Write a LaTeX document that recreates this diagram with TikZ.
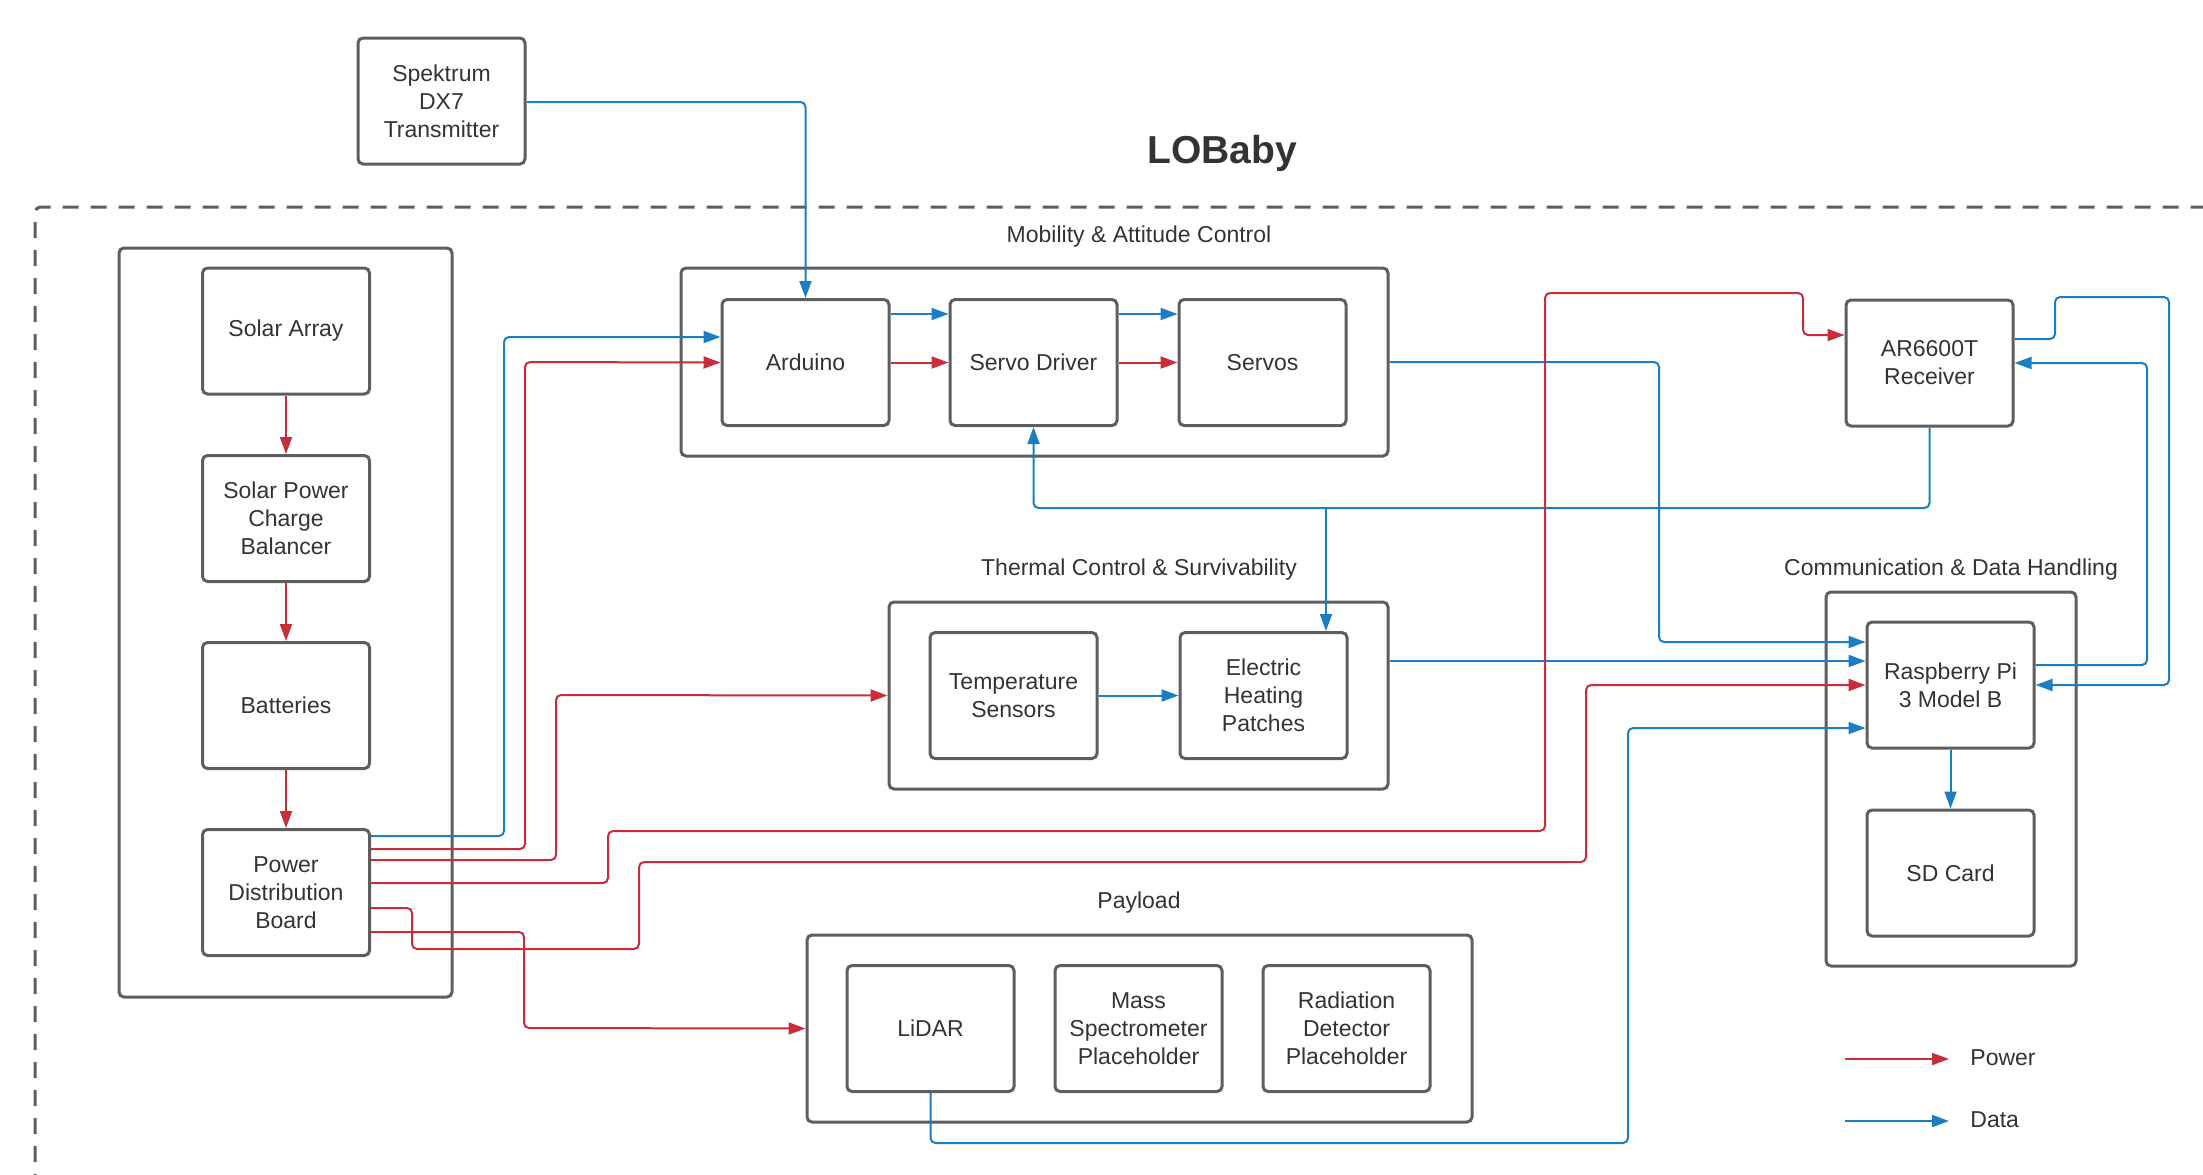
\documentclass[tikz,border=0pt]{standalone}
\usepackage{fontspec}
\setmainfont{Liberation Sans}
\usetikzlibrary{arrows.meta,calc,positioning}
\definecolor{boxgray}{HTML}{5E5E5E}
\definecolor{txtgray}{HTML}{333333}
\definecolor{pwrred}{HTML}{C92D39}
\definecolor{datblue}{HTML}{1B7DC2}
\tikzset{
  unit/.style={draw=boxgray, line width=1.5pt, rounded corners=2.5pt, minimum width=83.5pt, minimum height=63pt,
    align=center, text=txtgray, font=\fontsize{11.5}{14}\selectfont, inner sep=0pt},
  group/.style={draw=boxgray, line width=1.5pt, rounded corners=2.5pt, inner sep=0pt},
  grouplabel/.style={text=txtgray, font=\fontsize{11.5}{14}\selectfont},
  pwr/.style={draw=pwrred, line width=1pt, rounded corners=2.5pt, -{Triangle[length=8.5pt,width=6pt]}},
  dat/.style={draw=datblue, line width=1pt, rounded corners=2.5pt, -{Triangle[length=8.5pt,width=6pt]}}
}
\begin{document}
\begin{tikzpicture}[x=0.5pt,y=-0.5pt]
\useasboundingbox (0,0) rectangle (2203,1174);
\node[font=\bfseries\fontsize{19.5}{23}\selectfont, text=txtgray, anchor=base] (title) at (1222,163) {LOBaby};
\draw[boxgray, line width=1.5pt, dash pattern=on 8pt off 6pt, rounded corners=3pt] (35,1190) -- (35,207) -- (2220,207);

\node[group, minimum width=166.5pt, minimum height=374.5pt] (gpower) at (285.5,622.5) {};
\node[group, minimum width=353.5pt, minimum height=94pt] (gmob) at (1034.5,362) {};
\node[group, minimum width=249.5pt, minimum height=93.5pt] (gtherm) at (1138.5,695.5) {};
\node[group, minimum width=332.5pt, minimum height=93.5pt] (gpay) at (1139.5,1028.5) {};
\node[group, minimum width=125pt, minimum height=187pt] (gcomm) at (1951,779) {};

\node[grouplabel] (lmob) at (1139,237) {Mobility \& Attitude Control};
\node[grouplabel] (ltherm) at (1139,570) {Thermal Control \& Survivability};
\node[grouplabel] (lpay) at (1139,903) {Payload};
\node[grouplabel] (lcomm) at (1951,570) {Communication \& Data Handling};

\node[unit] (spek) at (441.5,101) {Spektrum\\DX7\\Transmitter};
\node[unit] (solar) at (286,331) {Solar Array};
\node[unit] (scb) at (286,518.5) {Solar Power\\Charge\\Balancer};
\node[unit] (batt) at (286,705.5) {Batteries};
\node[unit] (pdb) at (286,892.5) {Power\\Distribution\\Board};
\node[unit] (ard) at (805.5,362.5) {Arduino};
\node[unit] (sdrv) at (1033.5,362.5) {Servo Driver};
\node[unit] (servo) at (1262.5,362.5) {Servos};
\node[unit] (temp) at (1013.5,695.5) {Temperature\\Sensors};
\node[unit] (heat) at (1263.5,695.5) {Electric\\Heating\\Patches};
\node[unit] (ar) at (1929.5,363) {AR6600T\\Receiver};
\node[unit] (rpi) at (1950.5,685) {Raspberry Pi\\3 Model B};
\node[unit] (sd) at (1950.5,873) {SD Card};
\node[unit] (lidar) at (930.5,1028.5) {LiDAR};
\node[unit] (mass) at (1138.5,1028.5) {Mass\\Spectrometer\\Placeholder};
\node[unit] (rad) at (1346.5,1028.5) {Radiation\\Detector\\Placeholder};

\draw[pwr] (solar) -- (scb);
\draw[pwr] (scb) -- (batt);
\draw[pwr] (batt) -- (pdb);
\draw[dat] (spek.east |- 0,102) -| (ard.north);
\draw[dat] (ard.east |- 0,314) -- (sdrv.west |- 0,314);
\draw[pwr] (ard) -- (sdrv);
\draw[dat] (sdrv.east |- 0,314) -- (servo.west |- 0,314);
\draw[pwr] (sdrv) -- (servo);
\draw[dat] (gmob.east) -| (1659,642) -- (rpi.west |- 0,642);
\coordinate (jct) at (1326,508);
\draw[dat] (ar.south) |- (sdrv.south |- jct) -- (sdrv.south);
\draw[dat] (jct) -- (heat.north -| jct);
\draw[dat] (temp) -- (heat);
\draw[dat] (gtherm.east |- 0,661) -- (rpi.west |- 0,661);
\draw[dat] (lidar.south) |- (1628,1143) |- (rpi.west |- 0,728);
\draw[dat] (rpi.east |- 0,665) -| (2147,363) -- (ar.east);
\draw[dat] (ar.east |- 0,339) -| (2055,297) -| (2169,685) -- (rpi.east |- 0,685);
\draw[dat] (rpi) -- (sd);

\draw[dat] (pdb.east |- 0,836) -| (504,337) -- (ard.west |- 0,337);
\draw[pwr] (pdb.east |- 0,849) -| (525,362) -- (ard.west);
\draw[pwr] (pdb.east |- 0,860) -| (556,695) -- (gtherm.west);
\draw[pwr] (pdb.east |- 0,883) -| (608,831) -| (1545,293) -| (1803,335) -- (ar.west |- 0,335);
\draw[pwr] (pdb.east |- 0,908) -| (412,949) -| (639,862) -| (1586,685) -- (rpi.west);
\draw[pwr] (pdb.east |- 0,932) -| (524,1028) -- (gpay.west);

\coordinate (lgp1) at (1845,1059);
\coordinate (lgp2) at (1949,1059);
\coordinate (lgd1) at (1845,1121);
\coordinate (lgd2) at (1949,1121);
\draw[pwr] (lgp1) -- (lgp2);
\draw[dat] (lgd1) -- (lgd2);
\node[grouplabel, anchor=west, inner sep=0pt] (lpow) at (1970,1058) {Power};
\node[grouplabel, anchor=west, inner sep=0pt] (ldat) at (1970,1120) {Data};
\end{tikzpicture}
\end{document}
